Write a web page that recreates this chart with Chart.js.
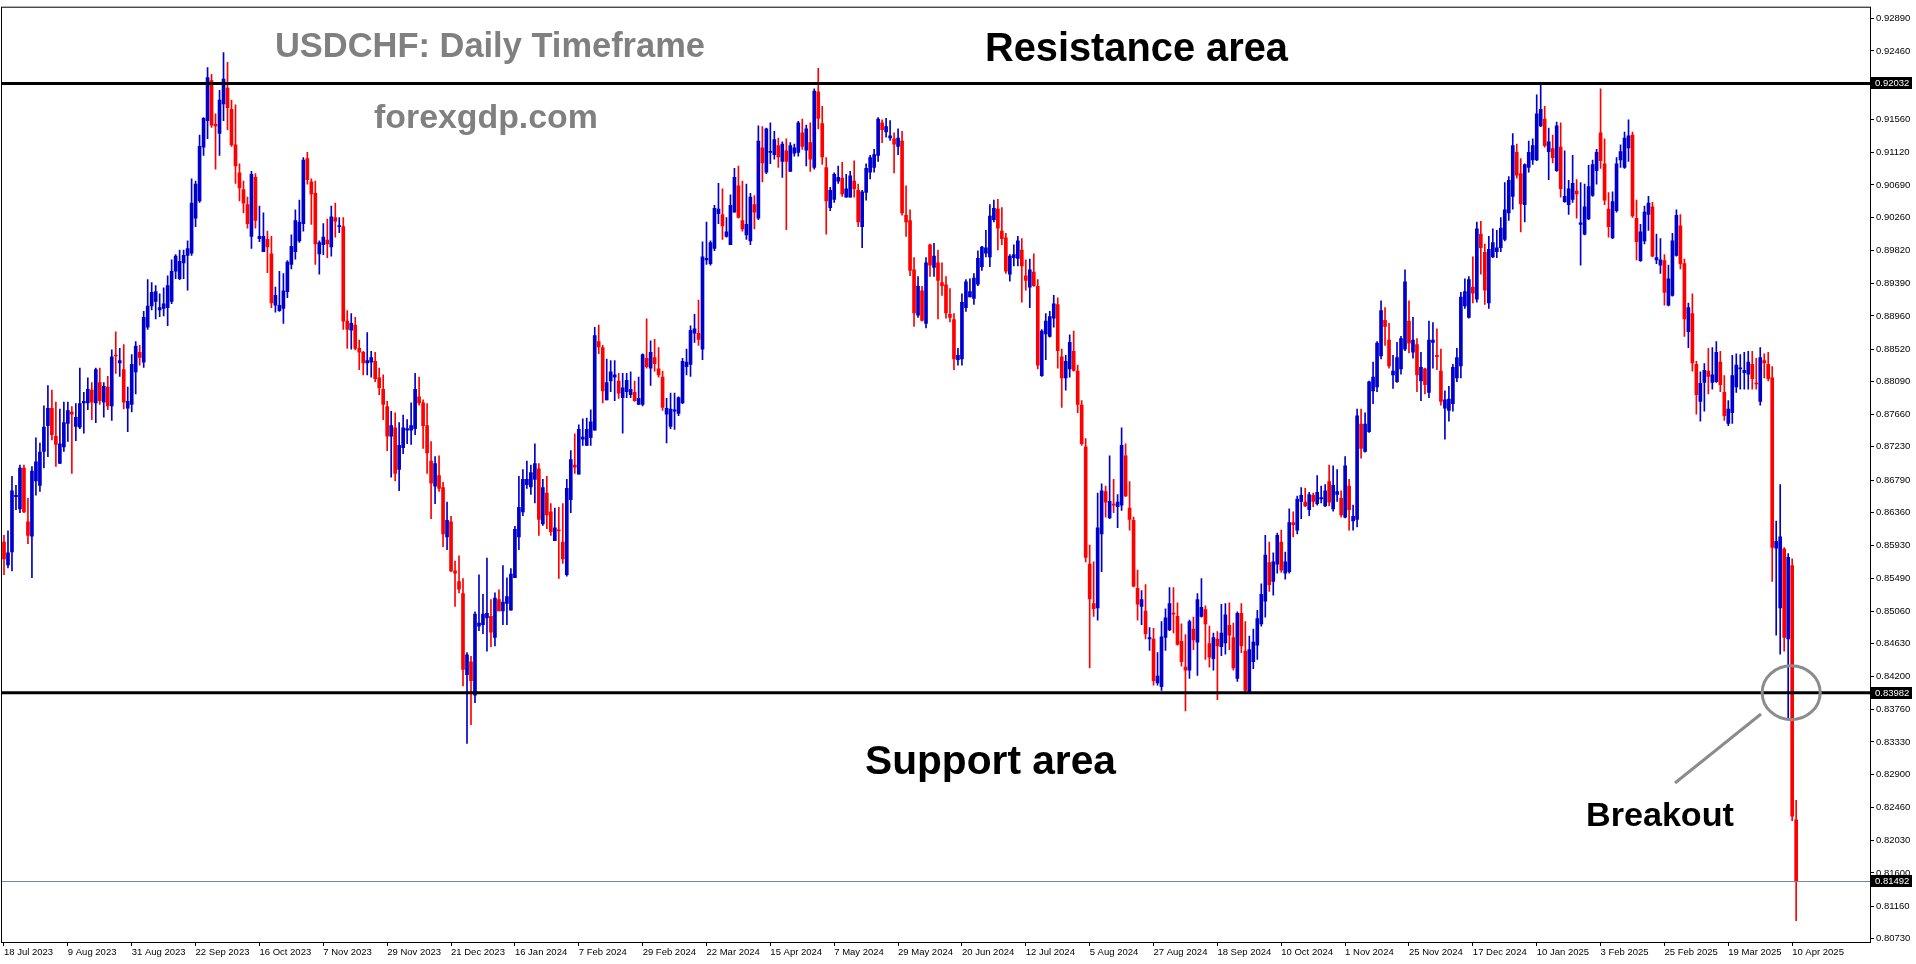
<!DOCTYPE html>
<html><head><meta charset="utf-8">
<script src="https://cdn.jsdelivr.net/npm/chart.js@4.4.1/dist/chart.umd.min.js"></script>
<style>html,body{margin:0;padding:0;background:#fff;overflow:hidden}canvas{display:block}</style>
</head><body>
<canvas id="c" width="1916" height="964"></canvas>
<script>
// ---------------- DATA (USDCHF daily, 18 Jul 2023 .. 11 Apr 2025) ----------------
const open = [
.8597,.8567,.8584,.8657,.8641,.8695,.8624,.8605,.8678,.8672,
.8717,.8751,.8774,.8737,.8701,.8723,.8754,.8769,.8750,.8749,
.8781,.8781,.8798,.8781,.8808,.8782,.8802,.8777,.8844,.8834,
.8825,.8774,.8779,.8822,.8848,.8835,.8881,.8909,.8915,.8904,
.8906,.8907,.8915,.8955,.8945,.8966,.8976,.8979,.9025,.9048,
.9119,.9154,.9207,.9149,.9137,.9176,.9197,.9169,.9122,.9085,
.9063,.9043,.9001,.9079,.8998,.8981,.8997,.8978,.8910,.8903,
.8906,.8928,.8964,.8981,.8995,.9018,.9104,.9073,.9058,.8978,
.8990,.8996,.8987,.9026,.9014,.9014,.8889,.8877,.8884,.8853,
.8848,.8834,.8835,.8836,.8814,.8799,.8776,.8737,.8748,.8693,
.8722,.8745,.8745,.8747,.8789,.8781,.8751,.8704,.8671,.8685,
.8669,.8604,.8624,.8559,.8545,.8529,.8422,.8439,.8395,.8486,
.8488,.8497,.8499,.8471,.8521,.8506,.8516,.8507,.8550,.8604,
.8637,.8673,.8670,.8680,.8694,.8621,.8662,.8637,.8599,.8613,
.8597,.8554,.8653,.8699,.8687,.8733,.8725,.8735,.8745,.8862,
.8854,.8785,.8810,.8815,.8810,.8788,.8796,.8792,.8795,.8779,
.8779,.8840,.8827,.8841,.8826,.8815,.8766,.8750,.8770,.8767,
.8781,.8829,.8832,.8873,.8873,.8852,.8970,.8965,.8985,.9031,
.9030,.9001,.8990,.9033,.9068,.9022,.9003,.8995,.9043,.9025,
.9118,.9086,.9112,.9109,.9121,.9100,.9114,.9087,.9111,.9112,
.9138,.9115,.9125,.9092,.9192,.9150,.9092,.9039,.9050,.9074,
.9078,.9053,.9053,.9074,.9062,.9014,.9059,.9086,.9092,.9108,
.9151,.9139,.9131,.9130,.9120,.9127,.9029,.9022,.8957,.8897,
.8929,.8886,.8990,.8960,.8966,.8940,.8937,.8898,.8891,.8838,
.8839,.8907,.8921,.8919,.8938,.8961,.8979,.8974,.9023,.9037,
.9008,.8999,.8951,.8973,.8972,.8983,.8949,.8934,.8954,.8935,
.8817,.8872,.8869,.8893,.8911,.8842,.8814,.8826,.8849,.8823,
.8778,.8723,.8568,.8516,.8510,.8608,.8664,.8629,.8647,.8644,
.8646,.8711,.8642,.8626,.8536,.8512,.8506,.8469,.8469,.8411,
.8406,.8471,.8481,.8503,.8499,.8466,.8432,.8428,.8482,.8465,
.8499,.8508,.8463,.8443,.8469,.8459,.8464,.8487,.8471,.8417,
.8503,.8453,.8398,.8439,.8461,.8489,.8519,.8570,.8545,.8568,
.8597,.8556,.8558,.8623,.8613,.8651,.8650,.8640,.8659,.8648,
.8654,.8645,.8677,.8641,.8660,.8655,.8630,.8671,.8625,.8627,
.8753,.8717,.8743,.8797,.8802,.8843,.8890,.8864,.8818,.8809,
.8826,.8852,.8889,.8848,.8858,.8810,.8826,.8795,.8861,.8844,
.8823,.8774,.8771,.8780,.8814,.8830,.8909,.8894,.8934,.8918,
.9004,.8980,.8913,.8974,.8981,.8986,.8997,.9032,.9054,.9112,
.9084,.9043,.9092,.9102,.9102,.9147,.9156,.9113,.9117,.9088,
.9119,.9047,.9043,.9050,.9061,.9017,.9004,.9024,.9055,.9088,
.9138,.9097,.9037,.8999,.9035,.9102,.9092,.9118,.9135,.9025,
.8969,.8995,.9030,.9040,.8970,.8963,.8969,.8910,.8923,.8976,
.9015,.8965,.8875,.8899,.8832,.8783,.8808,.8823,.8808,.8809,
.8835,.8795,.8754,.8768,.8802,.8826,.8821,.8819,.8832,.8807,
.8783,.8837,.8832,.8814,.8589,.8510,.8588,.8469,.8566,.8230];
const high = [
.8606,.8612,.8684,.8672,.8699,.8699,.8655,.8697,.8735,.8728,
.8777,.8804,.8798,.8782,.8773,.8782,.8782,.8776,.8780,.8827,
.8795,.8814,.8808,.8827,.8827,.8808,.8816,.8851,.8875,.8853,
.8858,.8802,.8845,.8862,.8857,.8902,.8944,.8940,.8936,.8925,
.8933,.8949,.8970,.8977,.8983,.8983,.8995,.9077,.9074,.9135,
.9158,.9224,.9215,.9163,.9194,.9244,.9231,.9181,.9175,.9097,
.9074,.9053,.9087,.9084,.9041,.9032,.9008,.9001,.8934,.8955,
.8952,.8969,.9003,.9036,.9049,.9105,.9112,.9077,.9074,.8995,
.9018,.9024,.9041,.9045,.9026,.9026,.8903,.8899,.8894,.8864,
.8849,.8874,.8849,.8848,.8827,.8818,.8783,.8770,.8768,.8755,
.8765,.8759,.8781,.8820,.8815,.8785,.8780,.8730,.8710,.8711,
.8676,.8650,.8631,.8572,.8579,.8549,.8451,.8446,.8505,.8554,
.8528,.8576,.8521,.8530,.8534,.8566,.8550,.8562,.8618,.8684,
.8693,.8704,.8699,.8727,.8701,.8680,.8684,.8648,.8642,.8643,
.8648,.8680,.8718,.8740,.8752,.8760,.8761,.8772,.8881,.8884,
.8857,.8839,.8837,.8837,.8820,.8820,.8820,.8822,.8810,.8815,
.8846,.8892,.8863,.8865,.8854,.8823,.8787,.8794,.8794,.8789,
.8840,.8852,.8883,.8898,.8917,.8994,.9020,.8995,.9042,.9071,
.9064,.9026,.9056,.9091,.9094,.9074,.9070,.9058,.9055,.9147,
.9146,.9144,.9151,.9140,.9131,.9126,.9130,.9125,.9123,.9153,
.9156,.9148,.9151,.9196,.9223,.9173,.9105,.9066,.9085,.9094,
.9099,.9083,.9087,.9101,.9070,.9062,.9097,.9108,.9116,.9158,
.9155,.9157,.9154,.9138,.9143,.9140,.9068,.9036,.8973,.8948,
.8935,.8973,.8991,.8992,.8983,.8966,.8948,.8932,.8899,.8853,
.8925,.8944,.8945,.8952,.8982,.8988,.9009,.9043,.9049,.9050,
.9039,.9005,.8977,.8990,.9001,.8998,.8970,.8971,.8978,.8944,
.8878,.8899,.8902,.8923,.8920,.8852,.8844,.8871,.8876,.8831,
.8784,.8734,.8593,.8571,.8662,.8674,.8671,.8711,.8680,.8660,
.8748,.8727,.8677,.8630,.8560,.8533,.8541,.8484,.8483,.8451,
.8492,.8509,.8537,.8537,.8517,.8489,.8475,.8494,.8498,.8529,
.8549,.8513,.8486,.8477,.8479,.8515,.8516,.8517,.8490,.8505,
.8516,.8492,.8473,.8482,.8507,.8542,.8606,.8597,.8583,.8609,
.8613,.8584,.8641,.8637,.8658,.8669,.8668,.8663,.8662,.8685,
.8671,.8673,.8699,.8698,.8693,.8665,.8710,.8680,.8646,.8773,
.8773,.8768,.8810,.8835,.8862,.8916,.8907,.8886,.8844,.8861,
.8869,.8957,.8916,.8894,.8866,.8848,.8827,.8889,.8887,.8879,
.8852,.8797,.8803,.8832,.8853,.8927,.8945,.8948,.8974,.9020,
.9021,.8991,.9001,.9011,.9009,.9026,.9072,.9080,.9137,.9123,
.9104,.9097,.9127,.9130,.9188,.9201,.9173,.9144,.9135,.9152,
.9151,.9114,.9075,.9108,.9076,.9072,.9070,.9095,.9102,.9116,
.9196,.9130,.9059,.9060,.9105,.9122,.9139,.9155,.9139,.9049,
.9017,.9041,.9054,.9046,.9004,.8998,.8977,.8963,.9005,.9036,
.9030,.8971,.8913,.8925,.8836,.8822,.8833,.8853,.8854,.8862,
.8849,.8817,.8784,.8844,.8846,.8845,.8848,.8849,.8849,.8840,
.8854,.8846,.8848,.8829,.8625,.8673,.8590,.8582,.8575,.8256];
const low = [
.8554,.8563,.8559,.8640,.8636,.8636,.8595,.8550,.8659,.8664,
.8695,.8710,.8732,.8697,.8701,.8717,.8730,.8688,.8731,.8747,
.8741,.8772,.8759,.8755,.8779,.8762,.8772,.8758,.8820,.8816,
.8773,.8743,.8769,.8793,.8831,.8828,.8878,.8904,.8892,.8895,
.8896,.8883,.8912,.8945,.8944,.8945,.8930,.8976,.9014,.9046,
.9108,.9130,.9145,.9090,.9108,.9154,.9142,.9120,.9071,.9048,
.9032,.9012,.8985,.9012,.8994,.8981,.8953,.8907,.8901,.8902,
.8886,.8920,.8958,.8971,.8993,.9008,.9070,.9017,.8964,.8951,
.8977,.8973,.8975,.9000,.9006,.8878,.8853,.8852,.8851,.8825,
.8818,.8818,.8815,.8809,.8792,.8759,.8718,.8683,.8678,.8665,
.8714,.8727,.8726,.8739,.8778,.8721,.8688,.8628,.8648,.8664,
.8591,.8587,.8558,.8512,.8530,.8407,.8331,.8356,.8385,.8480,
.8476,.8453,.8459,.8460,.8506,.8488,.8488,.8507,.8550,.8587,
.8632,.8668,.8660,.8649,.8606,.8619,.8615,.8606,.8599,.8549,
.8569,.8552,.8636,.8688,.8687,.8725,.8725,.8725,.8745,.8846,
.8781,.8785,.8796,.8784,.8787,.8741,.8788,.8788,.8783,.8779,
.8777,.8827,.8804,.8823,.8815,.8771,.8728,.8747,.8746,.8764,
.8780,.8818,.8816,.8861,.8857,.8838,.8964,.8963,.8982,.9018,
.8997,.9000,.8990,.9033,.9025,.9008,.8997,.8990,.9011,.9023,
.9073,.9084,.9097,.9103,.9092,.9079,.9010,.9087,.9107,.9107,
.9116,.9094,.9087,.9090,.9143,.9096,.9004,.9035,.9046,.9071,
.9054,.9053,.9053,.9053,.9014,.8986,.9049,.9077,.9086,.9100,
.9125,.9132,.9128,.9085,.9109,.9029,.9001,.8949,.8882,.8894,
.8889,.8880,.8948,.8948,.8892,.8923,.8893,.8888,.8825,.8831,
.8831,.8902,.8921,.8911,.8936,.8956,.8974,.8961,.9020,.8983,
.8990,.8952,.8942,.8962,.8962,.8914,.8930,.8907,.8935,.8826,
.8816,.8838,.8868,.8881,.8827,.8775,.8798,.8815,.8823,.8768,
.8725,.8571,.8431,.8499,.8494,.8558,.8630,.8628,.8636,.8616,
.8639,.8657,.8613,.8538,.8494,.8488,.8469,.8454,.8408,.8408,
.8401,.8454,.8480,.8477,.8461,.8433,.8374,.8417,.8455,.8421,
.8498,.8442,.8432,.8428,.8389,.8447,.8449,.8455,.8428,.8413,
.8451,.8398,.8397,.8430,.8442,.8486,.8498,.8532,.8527,.8556,
.8557,.8548,.8556,.8604,.8608,.8628,.8644,.8632,.8644,.8646,
.8649,.8644,.8645,.8638,.8651,.8630,.8629,.8613,.8613,.8617,
.8708,.8716,.8742,.8780,.8796,.8839,.8857,.8827,.8800,.8808,
.8819,.8850,.8847,.8840,.8796,.8784,.8793,.8788,.8827,.8825,
.8778,.8733,.8757,.8770,.8809,.8814,.8906,.8893,.8913,.8914,
.8951,.8911,.8906,.8973,.8973,.8981,.8995,.9022,.9037,.9078,
.9007,.9020,.9086,.9096,.9101,.9146,.9119,.9076,.9098,.9087,
.9053,.9046,.9030,.9046,.9025,.8963,.9003,.9023,.9054,.9070,
.9091,.9043,.9000,.8998,.9033,.9092,.9091,.9100,.9026,.8970,
.8968,.8991,.9009,.8974,.8965,.8952,.8910,.8909,.8922,.8975,
.8958,.8869,.8854,.8823,.8766,.8757,.8770,.8793,.8799,.8808,
.8796,.8758,.8751,.8754,.8795,.8799,.8799,.8799,.8799,.8799,
.8778,.8814,.8810,.8545,.8474,.8449,.8453,.8362,.8229,.8097];
const close = [
.8575,.8583,.8665,.8659,.8695,.8637,.8606,.8691,.8703,.8716,
.8749,.8774,.8739,.8726,.8727,.8755,.8771,.8766,.8762,.8780,
.8783,.8799,.8782,.8825,.8784,.8803,.8777,.8842,.8843,.8837,
.8782,.8783,.8832,.8856,.8841,.8894,.8909,.8927,.8928,.8907,
.8912,.8936,.8955,.8975,.8968,.8976,.8985,.9045,.9070,.9120,
.9157,.9211,.9148,.9147,.9181,.9209,.9171,.9122,.9094,.9065,
.9045,.9018,.9083,.9022,.9001,.9001,.8987,.8913,.8923,.8910,
.8929,.8967,.8988,.9022,.9020,.9102,.9076,.9057,.8991,.8993,
.9000,.8991,.9027,.9021,.9015,.8889,.8878,.8886,.8853,.8848,
.8834,.8837,.8841,.8813,.8801,.8779,.8737,.8751,.8688,.8725,
.8748,.8747,.8751,.8799,.8781,.8751,.8715,.8675,.8701,.8668,
.8608,.8626,.8559,.8556,.8535,.8429,.8448,.8414,.8502,.8490,
.8502,.8503,.8478,.8523,.8506,.8518,.8525,.8555,.8614,.8643,
.8680,.8680,.8689,.8701,.8627,.8669,.8633,.8611,.8616,.8612,
.8575,.8668,.8706,.8696,.8746,.8736,.8746,.8756,.8870,.8855,
.8797,.8808,.8822,.8818,.8794,.8801,.8811,.8799,.8784,.8787,
.8845,.8829,.8848,.8833,.8818,.8775,.8774,.8773,.8772,.8788,
.8836,.8835,.8877,.8879,.8865,.8974,.8972,.8993,.9038,.9037,
.9015,.9007,.9042,.9079,.9026,.9011,.9017,.9053,.9033,.9127,
.9098,.9143,.9113,.9129,.9106,.9123,.9100,.9121,.9118,.9151,
.9120,.9143,.9103,.9193,.9157,.9106,.9048,.9062,.9083,.9079,
.9057,.9064,.9081,.9064,.9020,.9060,.9091,.9105,.9109,.9156,
.9142,.9146,.9134,.9123,.9131,.9032,.9020,.8956,.8900,.8935,
.8890,.8966,.8963,.8975,.8943,.8936,.8900,.8894,.8839,.8844,
.8914,.8941,.8928,.8946,.8972,.8987,.8986,.9028,.9038,.9012,
.8998,.8955,.8975,.8977,.8995,.8962,.8943,.8957,.8936,.8831,
.8876,.8889,.8895,.8912,.8850,.8814,.8836,.8861,.8824,.8779,
.8727,.8577,.8522,.8509,.8616,.8665,.8650,.8651,.8646,.8650,
.8725,.8658,.8627,.8539,.8515,.8521,.8476,.8471,.8414,.8420,
.8472,.8497,.8516,.8502,.8462,.8439,.8428,.8492,.8468,.8521,
.8511,.8489,.8445,.8471,.8460,.8477,.8501,.8474,.8431,.8503,
.8460,.8401,.8455,.8465,.8496,.8528,.8580,.8541,.8571,.8606,
.8560,.8571,.8623,.8620,.8654,.8659,.8645,.8660,.8651,.8663,
.8656,.8665,.8650,.8672,.8664,.8633,.8698,.8640,.8631,.8764,
.8721,.8753,.8809,.8815,.8860,.8903,.8882,.8830,.8823,.8841,
.8866,.8941,.8860,.8864,.8818,.8828,.8805,.8864,.8864,.8842,
.8783,.8785,.8786,.8828,.8841,.8921,.8928,.8944,.8926,.9011,
.8986,.8930,.8984,.8993,.8986,.9012,.9036,.9075,.9121,.9082,
.9044,.9096,.9112,.9121,.9163,.9169,.9121,.9126,.9105,.9147,
.9064,.9054,.9064,.9071,.9057,.9019,.9040,.9067,.9096,.9112,
.9101,.9049,.9014,.9047,.9097,.9113,.9131,.9134,.9028,.8994,
.9007,.9033,.9045,.8975,.8973,.8970,.8927,.8945,.8995,.9029,
.8965,.8892,.8907,.8834,.8792,.8807,.8824,.8816,.8818,.8848,
.8805,.8764,.8773,.8817,.8831,.8827,.8824,.8835,.8813,.8806,
.8841,.8834,.8813,.8590,.8598,.8604,.8471,.8577,.8235,.81492];

const xTickLabels = ["18 Jul 2023","9 Aug 2023","31 Aug 2023","22 Sep 2023","16 Oct 2023","7 Nov 2023","29 Nov 2023",
 "21 Dec 2023","16 Jan 2024","7 Feb 2024","29 Feb 2024","22 Mar 2024","15 Apr 2024","7 May 2024","29 May 2024",
 "20 Jun 2024","12 Jul 2024","5 Aug 2024","27 Aug 2024","18 Sep 2024","10 Oct 2024","1 Nov 2024","25 Nov 2024",
 "17 Dec 2024","10 Jan 2025","3 Feb 2025","25 Feb 2025","19 Mar 2025","10 Apr 2025"];
const xTickBars = [0,16,32,48,64,80,96,112,128,144,160,176,192,208,224,240,256,272,288,304,320,336,352,368,384,400,416,432,448];
const yTickValues = [0.92890,0.92460,0.91560,0.91120,0.90690,0.90260,0.89820,0.89390,0.88960,0.88520,0.88090,
 0.87660,0.87230,0.86790,0.86360,0.85930,0.85490,0.85060,0.84630,0.84200,0.83760,0.83330,0.82900,0.82460,
 0.82030,0.81600,0.81160,0.80730];
const resistanceLevel = 0.92032;
const supportLevel = 0.83982;
const currentPrice = 0.81492;
const breakoutBar = 448;
const totalSlots = 468;               // bars + empty right margin
const slots = Array.from({length: totalSlots}, (_, i) => i);

// ---------------- STYLE ----------------
const BULL = '#0000CD', BEAR = '#FF0000';
const AXIS_FONT = {family: 'Liberation Sans', size: 9.5};
const annotations = [
  {text: 'USDCHF: Daily Timeframe', x1: 275, x2: 705, yc: 47, color: '#808080'},
  {text: 'forexgdp.com', x1: 374, x2: 598, yc: 119, color: '#808080'},
  {text: 'Resistance area', x1: 985, x2: 1288, yc: 50, color: '#000000'},
  {text: 'Support area', x1: 865, x2: 1116, yc: 763, color: '#000000'},
  {text: 'Breakout', x1: 1586, x2: 1734, yc: 817, color: '#000000'}
];

const isUp = close.map((c, i) => c >= open[i]);
const candleColors = isUp.map(u => u ? BULL : BEAR);

function fitText(ctx, a) {
  ctx.font = 'bold 100px "Liberation Sans"';
  const w = ctx.measureText(a.text).width;
  const size = 100 * (a.x2 - a.x1) / w;
  ctx.font = `bold ${size}px "Liberation Sans"`;
  ctx.fillStyle = a.color;
  ctx.textAlign = 'left';
  ctx.textBaseline = 'middle';
  ctx.fillText(a.text, a.x1, a.yc);
}

const overlay = {
  id: 'overlay',
  afterDatasetsDraw(chart) {
    const {ctx, chartArea: a, scales: {x, y}} = chart;
    ctx.save();
    ctx.strokeStyle = '#7a8895'; ctx.lineWidth = 1;
    let yp = Math.round(y.getPixelForValue(currentPrice)) + 0.5;
    ctx.beginPath(); ctx.moveTo(a.left, yp); ctx.lineTo(a.right, yp); ctx.stroke();
    ctx.strokeStyle = '#000'; ctx.lineWidth = 3;
    [resistanceLevel, supportLevel].forEach(v => {
      const py = y.getPixelForValue(v);
      ctx.beginPath(); ctx.moveTo(a.left, py); ctx.lineTo(a.right, py); ctx.stroke();
    });
    const cx = x.getPixelForValue(breakoutBar) - 1, cy = y.getPixelForValue(supportLevel);
    ctx.strokeStyle = '#8c8c8c'; ctx.lineWidth = 3;
    ctx.beginPath(); ctx.ellipse(cx, cy, 29, 27, 0, 0, Math.PI * 2); ctx.stroke();
    ctx.beginPath(); ctx.moveTo(1675, 783); ctx.lineTo(1761, 714); ctx.stroke();
    annotations.forEach(t => fitText(ctx, t));
    ctx.restore();
  },
  afterDraw(chart) {
    const {ctx, chartArea: a, scales: {y}} = chart;
    ctx.save();
    ctx.strokeStyle = '#000'; ctx.lineWidth = 1;
    ctx.strokeRect(a.left - 0.5, a.top - 0.5, a.right - a.left + 1, a.bottom - a.top + 1);
    ctx.font = '9.5px "Liberation Sans"';
    ctx.textAlign = 'left'; ctx.textBaseline = 'middle';
    [resistanceLevel, supportLevel, currentPrice].forEach(v => {
      const py = Math.round(y.getPixelForValue(v));
      ctx.fillStyle = '#000';
      ctx.fillRect(a.right + 1, py - 6, 41, 12);
      ctx.fillStyle = '#fff';
      ctx.fillText(v.toFixed(5), a.right + 5, py);
    });
    ctx.restore();
  }
};

new Chart(document.getElementById('c').getContext('2d'), {
  type: 'bar',
  data: {
    labels: slots,
    datasets: [
      {label: 'wick', data: low.map((l, i) => [l, high[i]]), backgroundColor: candleColors,
       barThickness: 1, grouped: false, order: 2, minBarLength: 1, borderWidth: 0},
      {label: 'body', data: open.map((o, i) => [o, close[i]]), backgroundColor: candleColors,
       barThickness: 3, grouped: false, order: 1, minBarLength: 1, borderWidth: 0}
    ]
  },
  options: {
    responsive: false, animation: false, events: [], devicePixelRatio: 1,
    layout: {padding: {left: 2, top: 2, right: 0, bottom: 0}},
    plugins: {legend: {display: false}, tooltip: {enabled: false}},
    scales: {
      x: {
        type: 'category', offset: true,
        grid: {display: true, drawOnChartArea: false, drawTicks: true, tickLength: 4, color: '#000', offset: false},
        border: {display: false},
        ticks: {autoSkip: false, maxRotation: 0, minRotation: 0, align: 'start', padding: 1, color: '#000', font: AXIS_FONT,
                callback: (v, i) => xTickLabels[i]},
        afterBuildTicks: s => { s.ticks = xTickBars.map(v => ({value: v})); },
        afterFit: s => { s.height = 22; }
      },
      y: {
        position: 'right', min: 0.80687, max: 0.93032,
        grid: {display: true, drawOnChartArea: false, drawTicks: true, tickLength: 4, color: '#000'},
        border: {display: false},
        ticks: {padding: 2, color: '#000', font: AXIS_FONT, callback: v => Number(v).toFixed(5)},
        afterBuildTicks: s => { s.ticks = yTickValues.map(v => ({value: v})); },
        afterFit: s => { s.width = 46; }
      }
    }
  },
  plugins: [overlay]
});
</script>
</body></html>
